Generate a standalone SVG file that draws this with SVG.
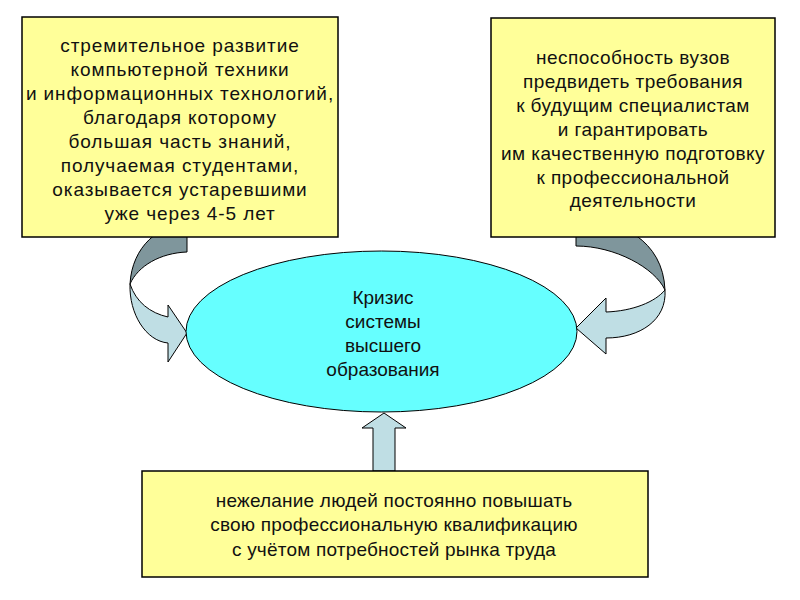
<svg xmlns="http://www.w3.org/2000/svg" width="800" height="600" viewBox="0 0 800 600">
<style>
.box{fill:#ffff99;stroke:#000;stroke-width:1.5}
.t{font-family:"Liberation Sans",Arial,sans-serif;font-size:19px;fill:#111;text-anchor:middle}
#left .t{letter-spacing:0.9px}
#right .t{letter-spacing:0.45px}
#bottom .t{letter-spacing:0.2px}
.dark{fill:#7f969c;stroke:#000;stroke-width:1}
.light{fill:#bfdee4;stroke:#000;stroke-width:1}
</style>
<rect width="800" height="600" fill="#fff"/>
<g id="connectors">
<path class="dark" d="M187,224 C160,224 132,246 130,284 C138,266 160,253 187,252 Z"/>
<path class="light" d="M130,284 C129,314 146,341 168,343 L168,362 L187,333 L168,305 L168,317 C150,313 136,302 130,284 Z"/>
<path class="dark" d="M576,219 C620,219 663,240 665,290 C655,268 615,246 576,246 Z"/>
<path class="light" d="M665,290 C667,320 640,338 606,338 L606,354 L576,328 L606,298 L606,312 C633,311 655,302 665,290 Z"/>
<path class="light" d="M373,471 L373,428 L362,428 L384,413 L406,428 L395,428 L395,471 Z"/>
</g>
<g id="left">
<rect class="box" x="22" y="17" width="316" height="220"/>
<text class="t" x="180" y="52">стремительное развитие</text>
<text class="t" x="180" y="76">компьютерной техники</text>
<text class="t" x="180" y="100">и информационных технологий,</text>
<text class="t" x="180" y="124">благодаря которому</text>
<text class="t" x="180" y="148">большая часть знаний,</text>
<text class="t" x="180" y="172">получаемая студентами,</text>
<text class="t" x="180" y="196">оказывается устаревшими</text>
<text class="t" x="190" y="220">уже через 4-5 лет</text>
</g>
<g id="right">
<rect class="box" x="491" y="18" width="284" height="219"/>
<text class="t" x="633" y="64">неспособность вузов</text>
<text class="t" x="633" y="88">предвидеть требования</text>
<text class="t" x="633" y="112">к будущим специалистам</text>
<text class="t" x="633" y="136">и гарантировать</text>
<text class="t" x="633" y="160">им качественную подготовку</text>
<text class="t" x="633" y="184">к профессиональной</text>
<text class="t" x="633" y="207">деятельности</text>
</g>
<g id="center">
<ellipse cx="381.5" cy="331.5" rx="195.5" ry="80.5" fill="#66ffff" stroke="#000" stroke-width="1"/>
<text class="t" x="383" y="304">Кризис</text>
<text class="t" x="383" y="328">системы</text>
<text class="t" x="383" y="352">высшего</text>
<text class="t" x="383" y="376">образования</text>
</g>
<g id="bottom">
<rect class="box" x="142" y="471" width="506" height="106"/>
<text class="t" x="394" y="507">нежелание людей постоянно повышать</text>
<text class="t" x="394" y="531">свою профессиональную квалификацию</text>
<text class="t" x="394" y="556">с учётом потребностей рынка труда</text>
</g>
</svg>
